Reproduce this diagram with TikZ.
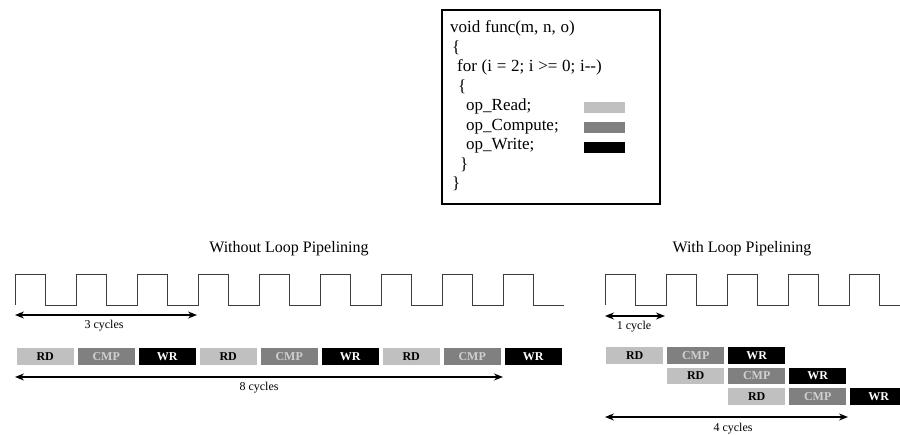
\documentclass[tikz,border=0pt]{standalone}
\usepackage{fontspec}
\setmainfont{Liberation Serif}
\newfontfamily\listingfont[WordSpace=1.1]{Liberation Serif}
\usetikzlibrary{arrows.meta}
\definecolor{rdgray}{RGB}{192,192,192}
\definecolor{cmpgray}{RGB}{128,128,128}
\definecolor{cmptext}{RGB}{208,208,208}
\definecolor{clockline}{RGB}{60,60,60}

\tikzset{
  op/.style={minimum width=57pt, minimum height=16.5pt, inner sep=0pt, anchor=north west,
    font=\fontsize{12}{12}\selectfont\bfseries},
  rd/.style={op, fill=rdgray, text=black},
  cmp/.style={op, fill=cmpgray, text=cmptext},
  wr/.style={op, fill=black, text=white},
  codeline/.style={anchor=base west, inner sep=0pt, font=\listingfont\fontsize{17}{19.5}\selectfont},
  title/.style={anchor=base, inner sep=0pt, font=\fontsize{16}{19}\selectfont},
  cyclabel/.style={anchor=base, inner sep=0pt, font=\fontsize{12}{14}\selectfont},
  span/.style={{Stealth[length=9pt,width=7pt]}-{Stealth[length=9pt,width=7pt]}, line width=1.2pt},
  clock/.style={draw=clockline, line width=0.9pt},
  legendbar/.style={minimum width=41pt, minimum height=11pt, inner sep=0pt, anchor=north west},
}

\begin{document}
\begin{tikzpicture}[x=1pt,y=-1pt]
\useasboundingbox (0,0) rectangle (900,435);
\clip (0,0) rectangle (900,435);

% source listing
\node[draw, line width=2pt, minimum width=218pt, minimum height=194pt, inner sep=0pt,
      anchor=north west] (code) at (441,9) {};
\node[codeline] (l1) at (450,33)  {void func(m, n, o)};
\node[codeline] (l2) at (452,53)  {\{};
\node[codeline] (l3) at (457,72)  {for (i = 2; i >= 0; i-{}-)};
\node[codeline] (l4) at (458,92)  {\{};
\node[codeline] (l5) at (466,111) {op\_Read;};
\node[codeline] (l6) at (466,131) {op\_Compute;};
\node[codeline] (l7) at (466,150) {op\_Write;};
\node[codeline] (l8) at (460,170) {\}};
\node[codeline] (l9) at (452,189) {\}};
\node[legendbar, fill=rdgray]  (barrd)  at (584,102) {};
\node[legendbar, fill=cmpgray] (barcmp) at (584,122) {};
\node[legendbar, fill=black]   (barwr)  at (584,142) {};

% titles
\node[title] (t1) at (289,253) {Without Loop Pipelining};
\node[title] (t2) at (742,253) {With Loop Pipelining};

% clocks
\draw[clock] (15,305) \foreach \k in {0,...,8} { -- ++(0,-31) -- ++(30.5,0) -- ++(0,31) -- ++(30.5,0) };
\draw[clock] (605,305) \foreach \k in {0,...,4} { -- ++(0,-31) -- ++(30.5,0) -- ++(0,31) -- ++(30.5,0) };

% sequential schedule
\node[rd]  (a1) at (16.5,348)  {RD};
\node[cmp] (a2) at (77.5,348)  {CMP};
\node[wr]  (a3) at (138.5,348) {WR};
\node[rd]  (a4) at (199.5,348) {RD};
\node[cmp] (a5) at (260.5,348) {CMP};
\node[wr]  (a6) at (321.5,348) {WR};
\node[rd]  (a7) at (382.5,348) {RD};
\node[cmp] (a8) at (443.5,348) {CMP};
\node[wr]  (a9) at (504.5,348) {WR};

% pipelined schedule
\node[rd]  (b1) at (606,347) {RD};
\node[cmp] (b2) at (667,347) {CMP};
\node[wr]  (b3) at (728,347) {WR};
\node[rd]  (c1) at (667,367.5) {RD};
\node[cmp] (c2) at (728,367.5) {CMP};
\node[wr]  (c3) at (789,367.5) {WR};
\node[rd]  (d1) at (728,388) {RD};
\node[cmp] (d2) at (789,388) {CMP};
\node[wr]  (d3) at (850,388) {WR};

% cycle spans
\coordinate (s3a) at (15,315);  \coordinate (s3b) at (197,315);
\coordinate (s8a) at (15,377);  \coordinate (s8b) at (503,377);
\coordinate (s1a) at (605,316); \coordinate (s1b) at (665,316);
\coordinate (s4a) at (605,417); \coordinate (s4b) at (848,417);
\draw[span] (s3a) -- (s3b);
\draw[span] (s8a) -- (s8b);
\draw[span] (s1a) -- (s1b);
\draw[span] (s4a) -- (s4b);
\node[cyclabel] (n3) at (104,329) {3 cycles};
\node[cyclabel] (n8) at (259,391) {8 cycles};
\node[cyclabel] (n1) at (634,330) {1 cycle};
\node[cyclabel] (n4) at (733,432) {4 cycles};
\end{tikzpicture}
\end{document}
